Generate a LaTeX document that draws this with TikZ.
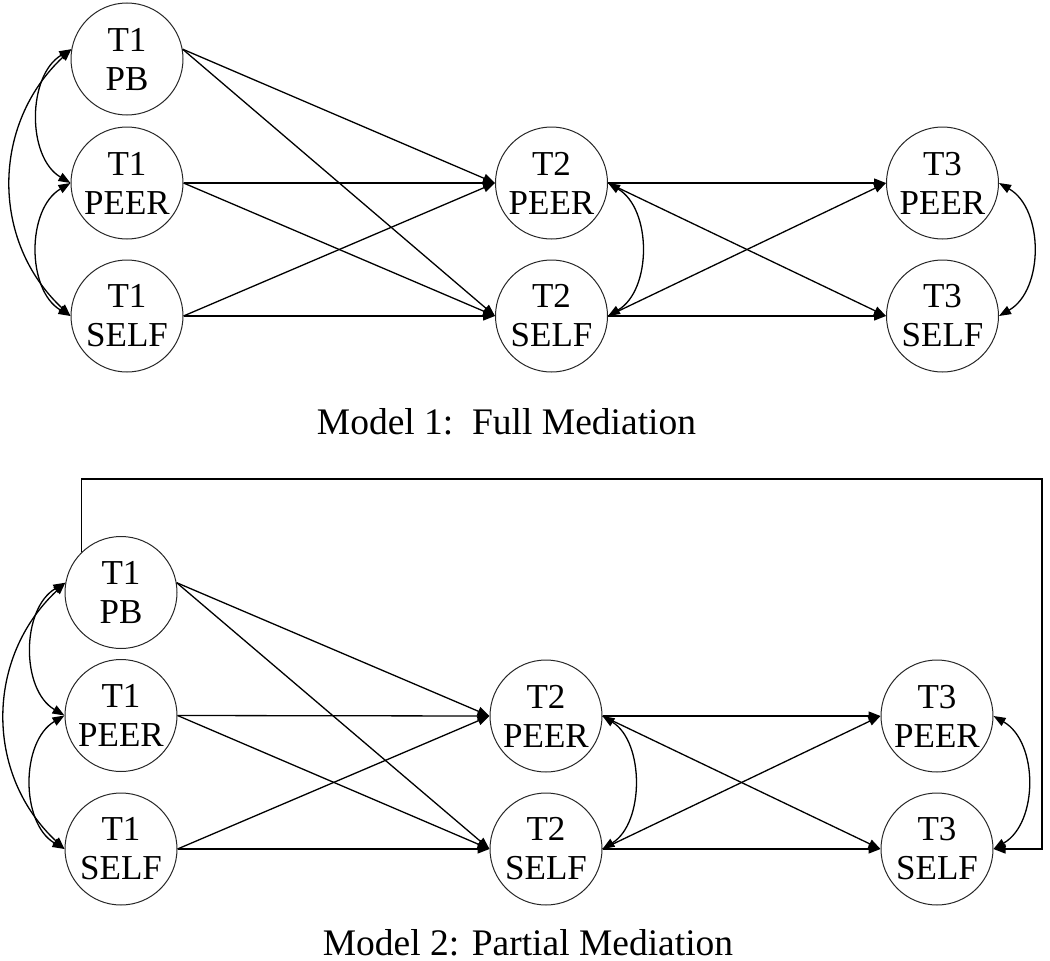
\documentclass[tikz,border=0pt]{standalone}
\usepackage{fontspec}
\setmainfont{Liberation Serif}
\usetikzlibrary{arrows.meta}
\begin{document}
\begin{tikzpicture}[x=1pt,y=-1pt,
  var/.style={circle,draw=black!85,line width=1pt,minimum size=112pt,inner sep=0pt,align=center,font=\fontsize{35}{39}\selectfont},
  path/.style={line width=1.3pt,-{Triangle[length=12pt,width=9pt]}},
  cov/.style={line width=1.3pt,{Triangle[length=12pt,width=9pt]}-{Triangle[length=12pt,width=9pt]}},
  title/.style={anchor=base,font=\fontsize{37.5}{40}\selectfont}]
\useasboundingbox (0,0) rectangle (1050,961);
% ---------- Model 1 ----------
\node[var] (pbA) at (127,59) {T1\\PB};
\node[var] (peerA) at (127,183) {T1\\PEER};
\node[var] (selfA) at (127,316) {T1\\SELF};
\node[var] (tpeerA) at (551.5,183) {T2\\PEER};
\node[var] (tselfA) at (551.5,316) {T2\\SELF};
\node[var] (upeerA) at (942.5,183) {T3\\PEER};
\node[var] (uselfA) at (942.5,316) {T3\\SELF};
\draw[cov] (pbA.170) .. controls +(-44,26) and +(-44,-26) .. (peerA.west);
\draw[cov] (peerA.west) .. controls +(-44,26) and +(-44,-26) .. (selfA.west);
\draw[cov] (pbA.170) .. controls +(-80,75) and +(-80,-75) .. (selfA.west);
\draw[path] (pbA.10) -- (tpeerA.west);
\draw[path] (pbA.10) -- (tselfA.west);
\draw[path] (peerA.east) -- (tpeerA.west);
\draw[path] (peerA.east) -- (tselfA.west);
\draw[path] (selfA.east) -- (tpeerA.west);
\draw[path] (selfA.east) -- (tselfA.west);
\draw[cov] (tpeerA.east) .. controls +(44,26) and +(44,-26) .. (tselfA.east);
\draw[path] (tpeerA.east) -- (upeerA.west);
\draw[path] (tpeerA.east) -- (uselfA.west);
\draw[path] (tselfA.east) -- (upeerA.west);
\draw[path] (tselfA.east) -- (uselfA.west);
\draw[cov] (upeerA.east) .. controls +(45,26) and +(45,-26) .. (uselfA.east);
\node[title] (titleA) at (506.5,434) {Model 1:\ \ Full Mediation};
% ---------- Model 2 ----------
\node[var] (pbB) at (121,592.5) {T1\\PB};
\node[var] (peerB) at (121,715.5) {T1\\PEER};
\node[var] (selfB) at (121,849) {T1\\SELF};
\node[var] (tpeerB) at (546,716) {T2\\PEER};
\node[var] (tselfB) at (546,849) {T2\\SELF};
\node[var] (upeerB) at (937,716) {T3\\PEER};
\node[var] (uselfB) at (937,849) {T3\\SELF};
\draw[cov] (pbB.170) .. controls +(-44,26) and +(-44,-26) .. (peerB.west);
\draw[cov] (peerB.west) .. controls +(-44,26) and +(-44,-26) .. (selfB.west);
\draw[cov] (pbB.170) .. controls +(-80,75) and +(-80,-75) .. (selfB.west);
\draw[path] (pbB.10) -- (tpeerB.west);
\draw[path] (pbB.10) -- (tselfB.west);
\draw[path] (peerB.east) -- (tpeerB.west);
\draw[path] (peerB.east) -- (tselfB.west);
\draw[path] (selfB.east) -- (tpeerB.west);
\draw[path] (selfB.east) -- (tselfB.west);
\draw[cov] (tpeerB.east) .. controls +(42,26) and +(42,-26) .. (tselfB.east);
\draw[path] (tpeerB.east) -- (upeerB.west);
\draw[path] (tpeerB.east) -- (uselfB.west);
\draw[path] (tselfB.east) -- (upeerB.west);
\draw[path] (tselfB.east) -- (uselfB.west);
\draw[cov] (upeerB.east) .. controls +(45,26) and +(45,-26) .. (uselfB.east);
\coordinate (frameTR) at (1042,479);
\draw[path] (pbB.134) |- (frameTR) |- (uselfB.east);
\node[title] (titleB) at (528,955) {Model 2: Partial Mediation};
\end{tikzpicture}
\end{document}
